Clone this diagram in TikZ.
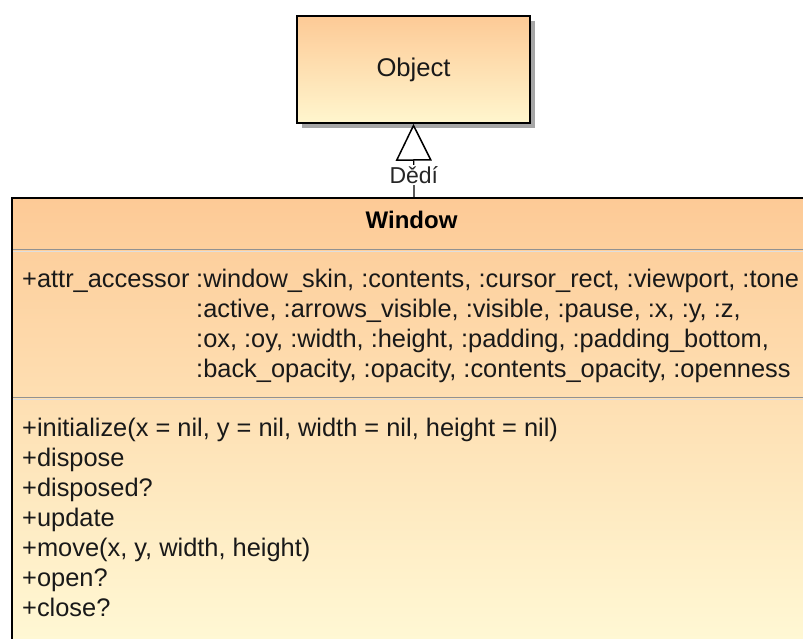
\documentclass[tikz,border=0pt]{standalone}
\usepackage{fontspec}
\setmainfont{Liberation Sans}
\usetikzlibrary{arrows.meta,shadows}
\definecolor{boxtop}{RGB}{253,202,150}
\definecolor{objbot}{RGB}{255,246,206}
\definecolor{winbot}{RGB}{255,250,215}
\definecolor{sepdark}{RGB}{145,145,145}
\definecolor{seplight}{RGB}{222,222,222}
\begin{document}
\begin{tikzpicture}[x=1pt,y=-1pt,
  txt/.style={anchor=base west, inner sep=0pt, text=black!90, font=\fontsize{25.4}{30}\selectfont},
  classbox/.style={draw=black, line width=1.5pt, inner sep=0pt},
  sepd/.style={draw=sepdark, line width=1.6pt},
  sepl/.style={draw=seplight, line width=1.6pt}]
\useasboundingbox (0,0) rectangle (803,639);
\clip (0,0) rectangle (803,639);
\fill[white] (0,0) rectangle (803,639);
% Object class
\node[classbox, minimum width=233pt, minimum height=107pt,
      top color=boxtop, bottom color=objbot,
      drop shadow={shadow xshift=5pt, shadow yshift=-5pt, fill=black!35, opacity=1},
      font=\fontsize{25.6}{30}\selectfont, text=black!90] (obj) at (413.5,69.5) {Object};
% Window class
\node[classbox, minimum width=804pt, minimum height=462pt,
      top color=boxtop, bottom color=winbot] (win) at (414,429) {};
\coordinate (s1a) at (12.75,249.5); \coordinate (s1b) at (815.25,249.5);
\coordinate (s1c) at (12.75,251.5); \coordinate (s1d) at (815.25,251.5);
\coordinate (s2a) at (12.75,397.5); \coordinate (s2b) at (815.25,397.5);
\coordinate (s2c) at (12.75,399.5); \coordinate (s2d) at (815.25,399.5);
\draw[sepl] (s1c) -- (s1d);
\draw[sepd] (s1a) -- (s1b);
\draw[sepl] (s2c) -- (s2d);
\draw[sepd] (s2a) -- (s2b);
\node[anchor=base, inner sep=0pt, font=\fontsize{24}{28}\selectfont\bfseries] (wtitle) at (411.5,229) {Window};
% attributes
\node[txt] (a0) at (22,287) {+attr\_accessor};
\node[txt] (a1) at (196,287) {:window\_skin, :contents, :cursor\_rect, :viewport, :tone};
\node[txt] (a2) at (196,317) {:active, :arrows\_visible, :visible, :pause, :x, :y, :z,};
\node[txt] (a3) at (196,347) {:ox, :oy, :width, :height, :padding, :padding\_bottom,};
\node[txt] (a4) at (196,377) {:back\_opacity, :opacity, :contents\_opacity, :openness};
% operations
\node[txt] (o1) at (22,436) {+initialize(x = nil, y = nil, width = nil, height = nil)};
\node[txt] (o2) at (22,466) {+dispose};
\node[txt] (o3) at (22,496) {+disposed?};
\node[txt] (o4) at (22,526) {+update};
\node[txt] (o5) at (22,556) {+move(x, y, width, height)};
\node[txt] (o6) at (22,586) {+open?};
\node[txt] (o7) at (22,616) {+close?};
% generalization
\draw[line width=1.2pt, -{Triangle[open, length=37pt, width=36pt, line width=1.5pt]}]
  (win.north) -- node[pos=0.307, fill=white, inner sep=1.5pt, text=black!85,
  font=\fontsize{23}{27}\selectfont] (lbl) {Dědí} (obj.south);
\end{tikzpicture}
\end{document}
